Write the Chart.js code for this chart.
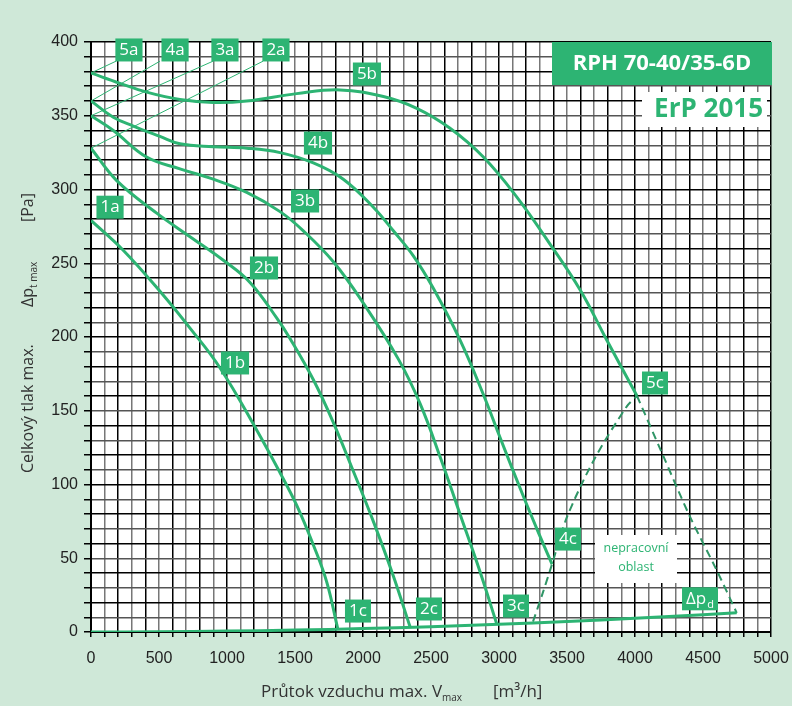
<!DOCTYPE html>
<html>
<head>
<meta charset="utf-8">
<script src="https://cdn.jsdelivr.net/npm/chart.js@4.4.1/dist/chart.umd.min.js"></script>
<style>
  html, body { margin: 0; padding: 0; background: #cfe8d8; }
  #graf { display: block; }
</style>
</head>
<body>
<canvas id="graf" width="792" height="706"></canvas>
<script>
// krivky ventilatoru [m3/h, Pa]
var krivka1 = [[0,279],[235,259],[507,231],[728,206],[949,179],[1218,137],[1390,108],[1512,86],[1635,59],[1733,34],[1815,2]];
var krivka2 = [[0,328],[189,306],[483,284],[728,268],[973,252],[1169,237],[1365,213],[1463,199],[1635,171],[1782,142],[1929,109],[2076,75],[2223,38],[2346,3.5]];
var krivka3 = [[0,350],[164,340],[409,322],[654,314],[899,307],[1145,298],[1390,285],[1561,272],[1782,251],[2002,223],[2260,185],[2419,155],[2566,119],[2713,80],[2860,41],[2985,5]];
var krivka4 = [[0,360],[164,349],[311,343],[507,336],[654,331],[899,329],[1145,328],[1390,325],[1635,318],[1855,307],[2076,288],[2223,272],[2370,255],[2517,233],[2713,198],[2885,161],[3007,132],[3179,92],[3301,65],[3390,46]];
var krivka5 = [[0,379],[213,372],[409,366],[654,361],[899,359],[1145,360],[1512,365],[1831,367.5],[2150,363],[2395,355],[2640,341.5],[2885,322],[3130,295],[3375,263],[3596,232],[3792,198],[4015,160]];
var dynTlak = [[0,0],[500,0.15],[1000,0.6],[1500,1.3],[2000,2.3],[2500,3.6],[3000,5.2],[3500,7.1],[4000,9.3],[4500,11.7],[4748,13]];
var hraniceLeva = [[3250,7],[3320,26],[3390,46],[3500,78],[3700,117],[3940,153],[4015,160]];
var hranicePrava = [[4015,160],[4200,121],[4400,79],[4600,42],[4748,13]];
var odkazy = [
    [[0,379],[184,387]],
    [[0,360],[507,387]],
    [[0,350],[897,387]],
    [[0,328],[1265,387]]
];

// popisky krivek
var popisText = ['5a','4a','3a','2a','5b','4b','3b','2b','1b','1a','1c','2c','3c','4c','5c'];
var popisX = [279,618,985,1360,2029,1669,1574,1272,1059,140,1963,2485,3125,3507,4147];
var popisY = [394.6,394.6,394.6,394.6,378.3,331.5,292.2,246.8,182.4,288,14.2,15.6,17.6,63,168.8];

var xMax = 5000, xKrok = 100, xPopis = 500;
var yMax = 400, yKrok = 10, yPopis = 50;

var ZELENA = '#2db473';
var TMAVA = '#2f9566';
var MATA = '#cfe8d8';

function body(arr) {
    return arr.map(function (p) { return { x: p[0], y: p[1] }; });
}

function krivka(arr) {
    return {
        data: body(arr), showLine: true, borderColor: ZELENA, borderWidth: 3,
        pointRadius: 0, tension: 0.4, fill: false
    };
}

var datasets = [krivka1, krivka2, krivka3, krivka4, krivka5].map(krivka);
datasets.push({ data: body(dynTlak), showLine: true, borderColor: ZELENA, borderWidth: 3, pointRadius: 0, tension: 0.3 });
datasets.push({ data: body(hraniceLeva), showLine: true, borderColor: TMAVA, borderWidth: 2, borderDash: [8, 5], pointRadius: 0, tension: 0.3 });
datasets.push({ data: body(hranicePrava), showLine: true, borderColor: TMAVA, borderWidth: 2, borderDash: [8, 5], pointRadius: 0, tension: 0.3 });
odkazy.forEach(function (o) {
    datasets.push({ data: body(o), showLine: true, borderColor: ZELENA, borderWidth: 1, pointRadius: 0 });
});

function krabicka(ctx, cx, cy, text, sub) {
    ctx.font = '17px "Open Sans"';
    var w = ctx.measureText(text).width;
    var ws = 0;
    if (sub) { ctx.font = '11px "Open Sans"'; ws = ctx.measureText(sub).width + 1; }
    var bw = Math.max(26, w + ws + 8), bh = 23;
    ctx.fillStyle = ZELENA;
    ctx.fillRect(cx - bw / 2, cy - bh / 2, bw, bh);
    ctx.fillStyle = '#fff';
    ctx.textBaseline = 'middle';
    ctx.textAlign = 'left';
    ctx.font = '17px "Open Sans"';
    var x0 = cx - (w + ws) / 2;
    ctx.fillText(text, x0, cy);
    if (sub) {
        ctx.font = '11px "Open Sans"';
        ctx.fillText(sub, x0 + w + 1, cy + 6);
    }
}

var vykres = {
    id: 'vykres',
    beforeDraw: function (chart) {
        var ctx = chart.ctx, a = chart.chartArea;
        ctx.save();
        ctx.fillStyle = MATA;
        ctx.fillRect(0, 0, chart.width, chart.height);
        ctx.fillStyle = '#fff';
        ctx.fillRect(a.left, a.top, a.right - a.left, a.bottom - a.top);
        ctx.restore();
    },
    afterDatasetsDraw: function (chart) {
        var ctx = chart.ctx, sx = chart.scales.x, sy = chart.scales.y;
        ctx.save();
        for (var i = 0; i < popisText.length; i++) {
            krabicka(ctx, sx.getPixelForValue(popisX[i]), sy.getPixelForValue(popisY[i]), popisText[i]);
        }
        krabicka(ctx, sx.getPixelForValue(4478), sy.getPixelForValue(22.5), 'Δp', 'd');

        // nepracovni oblast
        ctx.fillStyle = '#fff';
        ctx.fillRect(595, 535, 82, 48);
        ctx.fillStyle = ZELENA;
        ctx.font = '12.5px "Open Sans"';
        ctx.textAlign = 'center';
        ctx.textBaseline = 'middle';
        ctx.fillText('nepracovní', 636, 548);
        ctx.fillText('oblast', 636, 567);

        // typ
        ctx.fillStyle = ZELENA;
        ctx.fillRect(552, 42, 220, 43);
        ctx.fillStyle = '#fff';
        ctx.font = 'bold 22px "Open Sans"';
        ctx.fillText('RPH 70-40/35-6D', 662, 64);

        ctx.fillStyle = '#fff';
        ctx.fillRect(642, 92, 125, 35);
        ctx.fillStyle = ZELENA;
        ctx.font = 'bold 26px "Open Sans"';
        ctx.textAlign = 'right';
        ctx.fillText('ErP 2015', 763, 110);
        ctx.restore();
    },
    afterDraw: function (chart) {
        var ctx = chart.ctx, w;
        ctx.save();
        ctx.fillStyle = '#333';
        ctx.textBaseline = 'alphabetic';
        ctx.textAlign = 'left';
        // osa x
        ctx.font = '17px "Open Sans"';
        var t = 'Průtok vzduchu max. V';
        ctx.fillText(t, 261, 697);
        w = ctx.measureText(t).width;
        ctx.font = '10px "Open Sans"';
        ctx.fillText('max', 261 + w, 701);
        ctx.font = '17px "Open Sans"';
        ctx.fillText('[m³/h]', 493, 697);
        // osa y
        ctx.translate(33, 0);
        ctx.rotate(-Math.PI / 2);
        ctx.font = '16px "Open Sans"';
        ctx.fillText('Celkový tlak max.', -473, 0);
        ctx.fillText('Δp', -307, 0);
        w = ctx.measureText('Δp').width;
        ctx.font = '10px "Open Sans"';
        ctx.fillText('t max', -307 + w, 4);
        ctx.font = '16px "Open Sans"';
        ctx.fillText('[Pa]', -222, 0);
        ctx.restore();
    }
};

new Chart(document.getElementById('graf'), {
    type: 'scatter',
    data: { datasets: datasets },
    options: {
        responsive: false,
        animation: false,
        devicePixelRatio: 1,
        layout: { padding: { left: 0, top: 42, right: 21, bottom: 0 } },
        plugins: { legend: { display: false }, tooltip: { enabled: false } },
        scales: {
            x: {
                type: 'linear', min: 0, max: xMax,
                afterFit: function (s) { s.height = 74; s.paddingLeft = 0; s.paddingRight = 0; },
                border: { color: '#000', width: 2 },
                grid: {
                    color: function (c) { return c.tick && Math.round(c.tick.value) % 200 === 0 ? '#000' : '#777'; },
                    lineWidth: 1.5, tickLength: 5, tickColor: '#000', tickWidth: 1.5
                },
                ticks: {
                    stepSize: xKrok, autoSkip: false, maxRotation: 0, padding: 12,
                    color: '#222', font: { family: '"Liberation Sans", Arial', size: 16 },
                    callback: function (v) { return Math.round(v) % xPopis === 0 ? Math.round(v) : ''; }
                }
            },
            y: {
                type: 'linear', min: 0, max: yMax,
                afterFit: function (s) { s.width = 91; s.paddingTop = 0; s.paddingBottom = 0; },
                border: { color: '#000', width: 2 },
                grid: {
                    color: function (c) { return c.tick && Math.round(c.tick.value) % 20 === 0 ? '#000' : '#555'; },
                    lineWidth: 1.5, tickLength: 7, tickColor: '#000', tickWidth: 1.5
                },
                ticks: {
                    stepSize: yKrok, autoSkip: false, padding: 6,
                    color: '#222', font: { family: '"Liberation Sans", Arial', size: 16 },
                    callback: function (v) { return Math.round(v) % yPopis === 0 ? Math.round(v) : ''; }
                }
            }
        }
    },
    plugins: [vykres]
});
</script>
</body>
</html>
